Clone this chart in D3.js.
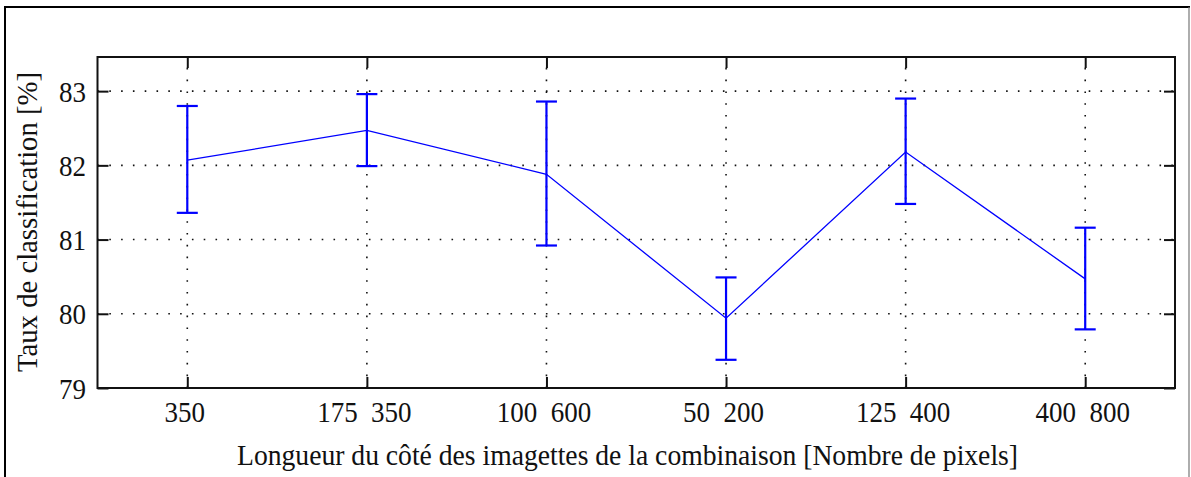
<!DOCTYPE html>
<html>
<head>
<meta charset="utf-8">
<script src="https://cdn.jsdelivr.net/npm/d3@7"></script>
<style>
  body { margin: 0; background: #fff; }
  svg { display: block; }
  text { font-family: "Liberation Serif", "Times New Roman", serif; fill: #111; white-space: pre; }
</style>
</head>
<body>
<script>
// Classification rate per tile-size combination, with error bars
const categories = ["350", "175  350", "100  600", "50  200", "125  400", "400  800"];
const means = [82.07, 82.47, 81.88, 79.94, 82.18, 80.47];
const upper = [82.80, 82.96, 82.86, 80.49, 82.90, 81.16];
const lower = [81.36, 81.99, 80.92, 79.38, 81.48, 79.79];
const yTicks = [79, 80, 81, 82, 83];
const xTitle = "Longueur du côté des imagettes de la combinaison [Nombre de pixels]";
const yTitle = "Taux de classification [%]";

const W = 1191, H = 477;
const plotL = 97.5, plotR = 1175, plotT = 57, plotB = 388;
const fontSize = 30, squeeze = 0.9, tickLen = 11;

const svg = d3.select("body").append("svg").attr("width", W).attr("height", H);

// outer frame
svg.append("path").attr("d", `M5,477 V7 H1190`).attr("fill", "none")
  .attr("stroke", "#000").attr("stroke-width", 2);
svg.append("line").attr("x1", 1189).attr("x2", 1189).attr("y1", 7).attr("y2", 477)
  .attr("stroke", "#777").attr("stroke-width", 1.2);

const x = d3.scaleLinear().domain([0.5, categories.length + 0.5]).range([plotL, plotR]);
const y = d3.scaleLinear().domain([79, 83.46]).range([plotB, plotT]);
const idx = categories.map((_, i) => i + 1);

// dotted grid
const grid = svg.append("g").attr("stroke", "#111").attr("stroke-width", 1.6)
  .attr("stroke-dasharray", "1.6,10.2");
grid.selectAll(".gy").data(yTicks.slice(1)).join("line")
  .attr("x1", plotL).attr("x2", plotR).attr("y1", d => y(d)).attr("y2", d => y(d));
grid.selectAll(".gx").data(idx).join("line")
  .attr("x1", d => x(d)).attr("x2", d => x(d)).attr("y1", plotB).attr("y2", plotT);

// axes with inward ticks on all four sides
const axB = d3.axisBottom(x).tickValues(idx).tickSize(-tickLen).tickFormat("");
const axT = d3.axisTop(x).tickValues(idx).tickSize(-tickLen).tickFormat("");
const axL = d3.axisLeft(y).tickValues(yTicks).tickSize(-tickLen).tickFormat("");
const axR = d3.axisRight(y).tickValues(yTicks).tickSize(-tickLen).tickFormat("");
[[axB, `translate(0,${plotB})`], [axT, `translate(0,${plotT})`],
 [axL, `translate(${plotL},0)`], [axR, `translate(${plotR},0)`]].forEach(([ax, tr]) => {
  const g = svg.append("g").attr("transform", tr).call(ax);
  g.select(".domain").remove();
  g.selectAll(".tick line").attr("stroke", "#111").attr("stroke-width", 2);
});
svg.append("rect").attr("x", plotL).attr("y", plotT).attr("width", plotR - plotL).attr("height", plotB - plotT)
  .attr("fill", "none").attr("stroke", "#111").attr("stroke-width", 2);

// text helper: horizontally condensed glyphs
function label(g, str, tx, ty, anchor, rot) {
  const t = g.append("g").attr("transform", `translate(${tx},${ty}) rotate(${rot || 0}) scale(${squeeze},1)`);
  return t.append("text").attr("text-anchor", anchor).attr("font-size", fontSize).text(str);
}
const tl = svg.append("g");
yTicks.forEach(v => label(tl, String(v), 86, y(v) + 10.5, "end"));
categories.forEach((c, i) => label(tl, c, x(i + 1) - 2.5, 421.5, "middle"));
label(tl, xTitle, 627.5, 465, "middle").attr("textLength", 781 / squeeze).attr("lengthAdjust", "spacingAndGlyphs");
label(tl, yTitle, 37, 222, "middle", -90).attr("textLength", 300 / squeeze).attr("lengthAdjust", "spacingAndGlyphs");

// series line
const blue = "#0000ff";
svg.append("path").datum(idx)
  .attr("fill", "none").attr("stroke", blue).attr("stroke-width", 1.3)
  .attr("d", d3.line().x(d => x(d)).y(d => y(means[d - 1])));

// error bars
const eb = svg.append("g").attr("stroke", blue).attr("stroke-width", 2.2);
idx.forEach(d => {
  const cx = x(d), cap = 10.5;
  eb.append("line").attr("x1", cx).attr("x2", cx).attr("y1", y(lower[d - 1])).attr("y2", y(upper[d - 1]));
  eb.append("line").attr("x1", cx - cap).attr("x2", cx + cap).attr("y1", y(lower[d - 1])).attr("y2", y(lower[d - 1]));
  eb.append("line").attr("x1", cx - cap).attr("x2", cx + cap).attr("y1", y(upper[d - 1])).attr("y2", y(upper[d - 1]));
});
</script>
</body>
</html>
